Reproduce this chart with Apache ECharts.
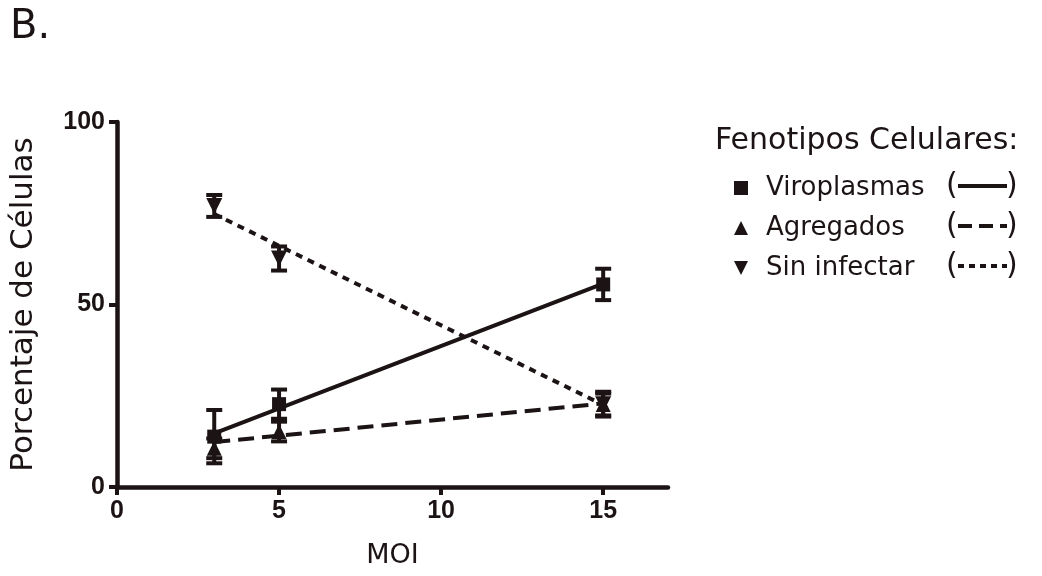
<!DOCTYPE html>
<html>
<head>
<meta charset="utf-8">
<script src="https://cdn.jsdelivr.net/npm/echarts@6/dist/echarts.min.js"></script>
<style>
  html, body { margin: 0; padding: 0; background: #fff; }
  #chart { width: 1042px; height: 576px; }
</style>
</head>
<body>
<div id="chart"></div>
<script>
// MOI values
const moi = [3, 5, 15];
// mean +/- error
const viroplasmas = [13.8, 22.7, 55.5];
const viroplasmasErr = [7.3, 4.0, 4.3];
const agregados = [10.6, 15.2, 22.6];
const agregadosErr = [2.7, 2.7, 3.0];
const sinInfectar = [77.0, 62.6, 22.7];
const sinInfectarErr = [3.0, 3.3, 3.4];
// fitted lines (end points)
const viroplasmasFit = [[3, 14.7], [15, 55.7]];
const agregadosFit = [[3, 12.3], [15, 22.9]];
const sinInfectarFit = [[3, 74.8], [15, 22.5]];
const xTicks = [0, 5, 10, 15];
const yTicks = [0, 50, 100];

const ink = '#1c1414';
const gothic = '"DejaVu Sans", sans-serif';
const downTri = 'path://M0,0 L10,0 L5,10 Z';

var chartDom = document.getElementById('chart');
var myChart = echarts.init(chartDom);

const pts = (ys, errs) => moi.map((x, i) => [x, ys[i], errs ? errs[i] : 0]);

const errorBars = (ys, errs) => ({
  type: 'custom',
  data: pts(ys, errs),
  z: 3,
  silent: true,
  renderItem: (params, api) => {
    const x = api.value(0), y = api.value(1), e = api.value(2);
    const hi = api.coord([x, y + e]);
    const lo = api.coord([x, y - e]);
    const w = 8;
    const st = { stroke: ink, lineWidth: 4 };
    return {
      type: 'group',
      children: [
        { type: 'line', shape: { x1: hi[0], y1: hi[1], x2: lo[0], y2: lo[1] }, style: st },
        { type: 'line', shape: { x1: hi[0] - w, y1: hi[1], x2: hi[0] + w, y2: hi[1] }, style: st },
        { type: 'line', shape: { x1: lo[0] - w, y1: lo[1], x2: lo[0] + w, y2: lo[1] }, style: st }
      ]
    };
  }
});

const fitLine = (data, type) => ({
  type: 'line',
  data: data,
  showSymbol: false,
  silent: true,
  z: 2,
  lineStyle: { color: ink, width: 4, type: type }
});

// legend line samples inside brackets
const sample = (y, dash) => ([
  { type: 'text', x: 946, y: y, style: { text: '(', fontSize: 30, fontFamily: gothic, fill: ink, verticalAlign: 'middle' } },
  { type: 'line', shape: { x1: 958, y1: y, x2: 1007, y2: y }, style: { stroke: ink, lineWidth: 4, lineDash: dash } },
  { type: 'text', x: 1006, y: y, style: { text: ')', fontSize: 30, fontFamily: gothic, fill: ink, verticalAlign: 'middle' } }
]);

const option = {
  animation: false,
  title: [
    { text: 'B.', left: 5, top: 3, textStyle: { fontFamily: gothic, fontSize: 40, fontWeight: 'normal', color: ink } },
    { text: 'Fenotipos Celulares:', left: 710, top: 121, textStyle: { fontFamily: gothic, fontSize: 30, fontWeight: 'normal', color: ink } }
  ],
  grid: { left: 117, top: 122, width: 551, height: 365, containLabel: false },
  legend: {
    orient: 'vertical',
    left: 729,
    top: 170,
    itemWidth: 14,
    itemHeight: 14,
    itemGap: 14,
    selectedMode: false,
    textStyle: { fontFamily: gothic, fontSize: 26, color: ink, padding: [0, 0, 0, 13] },
    data: [
      { name: 'Viroplasmas', icon: 'rect' },
      { name: 'Agregados', icon: 'triangle' },
      { name: 'Sin infectar', icon: downTri }
    ]
  },
  graphic: [].concat(
    sample(186, null),
    sample(226, [14, 7]),
    sample(266, [6, 5])
  ),
  xAxis: {
    type: 'value',
    min: 0,
    max: 17,
    interval: 5,
    name: 'MOI',
    nameLocation: 'middle',
    nameGap: 55,
    nameTextStyle: { fontFamily: gothic, fontSize: 27, color: ink },
    axisLine: { lineStyle: { color: ink, width: 4.5 } },
    axisTick: { length: 8, lineStyle: { color: ink, width: 4 }, customValues: xTicks },
    axisLabel: { fontFamily: 'Liberation Sans, Arial, sans-serif', fontWeight: 'bold', fontSize: 25, color: ink, margin: 12, customValues: xTicks },
    splitLine: { show: false }
  },
  yAxis: {
    type: 'value',
    min: 0,
    max: 100,
    interval: 50,
    name: 'Porcentaje de Células',
    nameLocation: 'middle',
    nameGap: 78,
    nameTextStyle: { fontFamily: gothic, fontSize: 31, color: ink },
    axisLine: { show: true, lineStyle: { color: ink, width: 4.5 } },
    axisTick: { show: true, length: 8, lineStyle: { color: ink, width: 4 }, customValues: yTicks },
    axisLabel: { fontFamily: 'Liberation Sans, Arial, sans-serif', fontWeight: 'bold', fontSize: 25, color: ink, margin: 12, customValues: yTicks },
    splitLine: { show: false }
  },
  series: [
    fitLine(viroplasmasFit, 'solid'),
    fitLine(agregadosFit, [16, 8]),
    fitLine(sinInfectarFit, [7, 6]),
    errorBars(viroplasmas, viroplasmasErr),
    errorBars(agregados, agregadosErr),
    errorBars(sinInfectar, sinInfectarErr),
    {
      name: 'Viroplasmas', type: 'scatter', z: 4,
      data: pts(viroplasmas), symbol: 'rect', symbolSize: 14,
      itemStyle: { color: ink, opacity: 1 }
    },
    {
      name: 'Agregados', type: 'scatter', z: 4,
      data: pts(agregados), symbol: 'triangle', symbolSize: 15,
      itemStyle: { color: ink, opacity: 1 }
    },
    {
      name: 'Sin infectar', type: 'scatter', z: 4,
      data: pts(sinInfectar), symbol: 'triangle', symbolRotate: 180, symbolSize: 16,
      itemStyle: { color: ink, opacity: 1 }
    }
  ]
};
myChart.setOption(option);
</script>
</body>
</html>
